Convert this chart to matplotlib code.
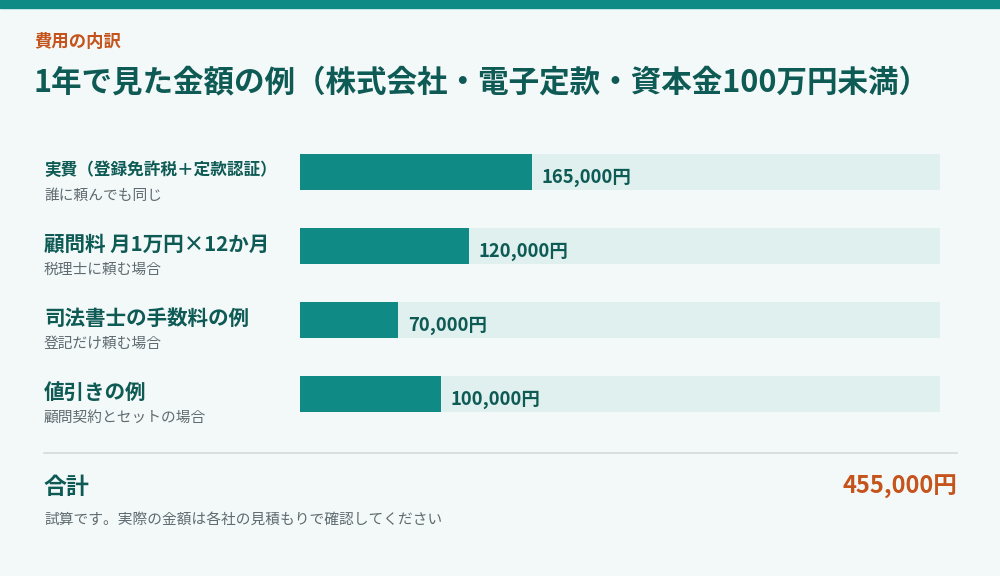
import matplotlib.pyplot as plt

plt.rcParams['font.family'] = ['Noto Sans CJK JP', 'DejaVu Sans']

labels = ["実費（登録免許税＋定款認証）", "顧問料 月1万円×12か月", "司法書士の手数料の例", "値引きの例"]
subs = ["誰に頼んでも同じ", "税理士に頼む場合", "登記だけ頼む場合", "顧問契約とセットの場合"]
values = [165000, 120000, 70000, 100000]
total = 455000

BG = "#f3f8f8"
TEAL = "#0f8a85"
DARK = "#0e5a55"
TRACK = "#dff0ee"
ORANGE = "#c4531c"
GRAY = "#5f6b70"

fig = plt.figure(figsize=(10, 5.76), dpi=100)
fig.patch.set_facecolor(BG)

# background axes in pixel coordinates
bg = fig.add_axes([0, 0, 1, 1])
bg.set_xlim(0, 1000)
bg.set_ylim(576, 0)
bg.axis("off")
bg.axhspan(0, 8, color=TEAL)

bg.text(34, 42, "費用の内訳", color=ORANGE, fontsize=12.5, fontweight="bold", va="center")
bg.text(34, 82, "1年で見た金額の例（株式会社・電子定款・資本金100万円未満）",
        color=DARK, fontsize=22, fontweight="bold", va="center")

for i, (lab, sub) in enumerate(zip(labels, subs)):
    cy = 172 + 74 * i
    fs = 12 if i == 0 else 14.8
    bg.text(44, cy - 2, lab, color=DARK, fontsize=fs, fontweight="bold", va="center")
    bg.text(44, cy + 24, sub, color=GRAY, fontsize=10.6, va="center")

bg.plot([44, 957], [453, 453], color="#d3dcdb", lw=1.2)
bg.text(44, 487, "合計", color=DARK, fontsize=16.5, fontweight="bold", va="center")
bg.text(957, 487, f"{total:,}円", color=ORANGE, fontsize=17, fontweight="bold",
        va="center", ha="right")
bg.text(44, 520, "試算です。実際の金額は各社の見積もりで確認してください",
        color=GRAY, fontsize=10.6, va="center")

# bar axes
ax = fig.add_axes([300 / 1000, 1 - 431 / 576, 640 / 1000, 296 / 576])
ax.set_facecolor("none")
ax.set_xlim(0, total)
ax.set_ylim(3.5, -0.5)
ax.axis("off")
ys = list(range(len(values)))
ax.barh(ys, [total] * len(values), height=0.49, color=TRACK)
ax.barh(ys, values, height=0.49, color=TEAL)
for y, v in zip(ys, values):
    ax.text(v + 7000, y + 0.08, f"{v:,}円", color=DARK, fontsize=13.3,
            fontweight="bold", va="center")

fig.savefig("out.png", dpi=100, facecolor=BG)
